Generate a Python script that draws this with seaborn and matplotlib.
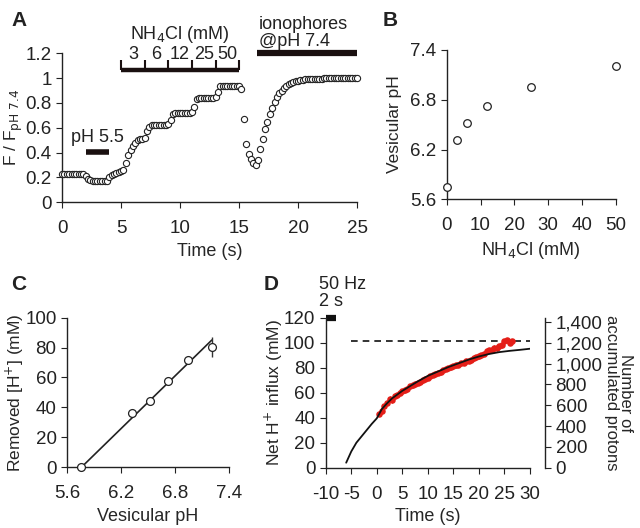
import numpy as np
import matplotlib
matplotlib.use("Agg")
import matplotlib.pyplot as plt
from matplotlib.ticker import FuncFormatter
import seaborn as sns

# ---- panel A: F / F(pH 7.4) trace ----
time_a = [
    0.0, 0.2, 0.4, 0.6, 0.8, 1.0, 1.2, 1.4, 1.6, 1.8,
    2.0, 2.2, 2.4, 2.6, 2.8, 3.0, 3.2, 3.4, 3.6, 3.8,
    4.0, 4.2, 4.4, 4.6, 4.8, 5.0, 5.2, 5.4, 5.6, 5.8,
    6.0, 6.2, 6.4, 6.6, 6.8, 7.0, 7.2, 7.4, 7.6, 7.8,
    8.0, 8.2, 8.4, 8.6, 8.8, 9.0, 9.2, 9.4, 9.6, 9.8,
    10.0, 10.2, 10.4, 10.6, 10.8, 11.0, 11.2, 11.4, 11.6, 11.8,
    12.0, 12.2, 12.4, 12.6, 12.8, 13.0, 13.2, 13.4, 13.6, 13.8,
    14.0, 14.2, 14.4, 14.6, 14.8, 15.0, 15.2, 15.4, 15.6, 15.8,
    16.0, 16.2, 16.4, 16.6, 16.8, 17.0, 17.2, 17.4, 17.6, 17.8,
    18.0, 18.2, 18.4, 18.6, 18.8, 19.0, 19.2, 19.4, 19.6, 19.8,
    20.0, 20.2, 20.4, 20.6, 20.8, 21.0, 21.2, 21.4, 21.6, 21.8,
    22.0, 22.2, 22.4, 22.6, 22.8, 23.0, 23.2, 23.4, 23.6, 23.8,
    24.0, 24.2, 24.4, 24.6, 24.8, 25.0,
]
ratio_a = [
    0.23, 0.23, 0.23, 0.23, 0.23, 0.23, 0.23, 0.23, 0.23, 0.23,
    0.21, 0.19, 0.18, 0.175, 0.175, 0.175, 0.175, 0.175, 0.175, 0.175,
    0.20, 0.22, 0.23, 0.235, 0.24, 0.25, 0.26, 0.32, 0.38, 0.42,
    0.45, 0.48, 0.50, 0.51, 0.51, 0.52, 0.57, 0.61, 0.62, 0.62,
    0.62, 0.62, 0.62, 0.62, 0.62, 0.63, 0.66, 0.71, 0.72, 0.72,
    0.72, 0.72, 0.72, 0.72, 0.72, 0.73, 0.77, 0.83, 0.84, 0.84,
    0.84, 0.84, 0.84, 0.84, 0.84, 0.85, 0.89, 0.94, 0.94, 0.94,
    0.94, 0.94, 0.94, 0.94, 0.94, 0.94, 0.91, 0.67, 0.47, 0.39,
    0.35, 0.32, 0.30, 0.34, 0.43, 0.51, 0.59, 0.65, 0.71, 0.76,
    0.81, 0.85, 0.88, 0.90, 0.92, 0.94, 0.95, 0.96, 0.97, 0.975,
    0.98, 0.985, 0.985, 0.99, 0.99, 0.99, 0.99, 0.99, 0.99, 0.99,
    0.99, 1.0, 1.0, 1.0, 1.0, 1.0, 1.0, 1.0, 1.0, 1.0,
    1.0, 1.0, 1.0, 1.0, 1.0, 1.0,
]
ph55_window = [2.0, 4.0]
nh4cl_edges = [5, 7, 9, 11, 13, 15]
nh4cl_conc = ["3", "6", "12", "25", "50"]
ionophore_window = [16.5, 25.0]

# ---- panel B / C: vesicular pH vs NH4Cl, removed H+ ----
nh4cl_mM = [0, 3, 6, 12, 25, 50]
vesicular_ph = [5.75, 6.32, 6.52, 6.72, 6.95, 7.21]
removed_h = [0, 36.5, 44.5, 57.5, 71.5, 80.5]
removed_h_err = [0, 1.5, 1.5, 1.5, 2.5, 6.5]
fit_ph = [5.76, 7.21]
fit_h = [0, 85]

# ---- panel D: net H+ influx ----
model_t = [-6, -5, -4, -3, -2, -1, 0, 1, 2, 3, 4, 5, 6, 8, 10, 12, 14,
           16, 18, 20, 22, 24, 26, 28, 30]
model_h = [4, 13, 20, 25, 30, 35, 39.5, 47, 51.5, 55.5, 58.5, 61.5, 64,
           69, 73.5, 77, 80.5, 83.5, 86.5, 89, 91, 92.5, 93.5, 94.3, 95.2]
influx_t = [0.5, 1.0, 1.5, 2.0, 2.5, 3.0, 3.5, 4.0, 4.5, 5.0, 5.5, 6.0,
            6.5, 7.0, 7.5, 8.0, 8.5, 9.0, 9.5, 10.0, 10.5, 11.0, 11.5,
            12.0, 12.5, 13.0, 13.5, 14.0, 14.5, 15.0, 15.5, 16.0, 16.5,
            17.0, 17.5, 18.0, 18.5, 19.0, 19.5, 20.0, 20.5, 21.0, 21.5,
            22.0, 22.5, 23.0, 23.5, 24.0, 24.5, 25.0, 25.5, 26.0, 26.5]
influx_h = [43, 45, 49, 52, 55, 54, 57, 58, 60, 61, 62, 63, 65, 66, 67,
            68, 68.5, 70, 71, 72, 73, 74.5, 75, 76, 76.5, 78, 79, 79.5,
            80.5, 81, 82, 82.5, 83.5, 84, 85, 85.5, 86.5, 87.5, 88.5, 89,
            90, 91, 93, 94, 94.5, 96, 95.5, 97, 98, 101, 102, 100, 101]
influx_err = [2.0] * len(influx_t)
plateau_h = 101
stim_window = [-10, -8]

sns.set_style("ticks")
plt.rcParams["font.family"] = ["Liberation Sans", "DejaVu Sans"]
plt.rcParams.update({
    "axes.linewidth": 1.0,
    "axes.unicode_minus": False,
    "xtick.major.size": 4,
    "ytick.major.size": 4,
    "xtick.labelsize": 13.5,
    "ytick.labelsize": 13.5,
    "axes.labelsize": 12.5,
    "xtick.color": "#222222",
    "ytick.color": "#222222",
    "axes.edgecolor": "#222222",
    "text.color": "#222222",
})
FS = 13
LS = 12.5
plain = FuncFormatter(lambda v, p: f"{v:g}")

fig = plt.figure(figsize=(6.4, 5.28), dpi=100)

# ================= A =================
ax = fig.add_axes([0.097, 0.617, 0.461, 0.282])
sns.scatterplot(x=time_a, y=ratio_a, ax=ax, marker="o", s=20,
                facecolor="white", edgecolor="#222222", linewidth=0.8,
                clip_on=False, zorder=3)
ax.set_xlim(0, 25)
ax.set_ylim(0, 1.2)
ax.set_xticks([0, 5, 10, 15, 20, 25])
ax.set_yticks(np.arange(0, 1.21, 0.2))
ax.yaxis.set_major_formatter(plain)
ax.set_xlabel("Time (s)", fontsize=FS)
ax.set_ylabel("F / F$_{\\mathrm{pH\\ 7.4}}$", fontsize=LS)
ax.yaxis.set_label_coords(-0.125, 0.5)
ax.tick_params(axis="x", pad=9)
sns.despine(ax=ax)
# pH 5.5 bar
ax.hlines(0.405, *ph55_window, color="#1a1010", lw=4)
ax.text(3.0, 0.52, "pH 5.5", ha="center", va="center", fontsize=FS)
# NH4Cl bracket
ax.hlines(1.065, nh4cl_edges[0], nh4cl_edges[-1], color="#1a1010", lw=3.2,
          clip_on=False)
ax.vlines(nh4cl_edges, 1.065, 1.15, color="#1a1010", lw=1.5, clip_on=False)
for lo, hi, lab in zip(nh4cl_edges[:-1], nh4cl_edges[1:], nh4cl_conc):
    ax.text((lo + hi) / 2, 1.19, lab, ha="center", va="center", fontsize=FS)
ax.text(10, 1.35, "NH$_4$Cl (mM)", ha="center", va="center", fontsize=FS)
# ionophores bar
ax.hlines(1.2, *ionophore_window, color="#1a1010", lw=4.5, clip_on=False)
ax.text(16.7, 1.225, "ionophores\n@pH 7.4", ha="left", va="bottom",
        fontsize=FS, linespacing=1.0)
fig.text(0.018, 0.962, "A", fontsize=15, fontweight="bold", va="center")

# ================= B =================
ax = fig.add_axes([0.698, 0.6225, 0.264, 0.283])
sns.scatterplot(x=nh4cl_mM, y=vesicular_ph, ax=ax, marker="o", s=30,
                facecolor="white", edgecolor="#222222", linewidth=0.9,
                clip_on=False, zorder=3)
ax.set_xlim(0, 50)
ax.set_ylim(5.6, 7.4)
ax.set_xticks(range(0, 51, 10))
ax.set_yticks([5.6, 6.2, 6.8, 7.4])
ax.set_xlabel("NH$_4$Cl (mM)", fontsize=FS)
ax.set_ylabel("Vesicular pH", fontsize=LS)
ax.yaxis.set_label_coords(-0.265, 0.5)
ax.tick_params(axis="x", pad=9)
sns.despine(ax=ax)
fig.text(0.598, 0.962, "B", fontsize=15, fontweight="bold", va="center")

# ================= C =================
ax = fig.add_axes([0.1047, 0.115, 0.253, 0.2835])
sns.lineplot(x=fit_ph, y=fit_h, ax=ax, color="#222222", lw=1.2)
ax.errorbar(vesicular_ph, removed_h, yerr=removed_h_err, fmt="none",
            ecolor="#333333", elinewidth=1.0, capsize=0, zorder=2)
sns.scatterplot(x=vesicular_ph, y=removed_h, ax=ax, marker="o", s=32,
                facecolor="white", edgecolor="#222222", linewidth=0.9,
                clip_on=False, zorder=3)
ax.set_xlim(5.6, 7.4)
ax.set_ylim(0, 100)
ax.set_xticks([5.6, 6.2, 6.8, 7.4])
ax.set_yticks(range(0, 101, 20))
ax.set_xlabel("Vesicular pH", fontsize=FS)
ax.set_ylabel("Removed [H$^{+}$] (mM)", fontsize=LS)
ax.yaxis.set_label_coords(-0.255, 0.5)
ax.tick_params(axis="x", pad=9)
sns.despine(ax=ax)
fig.text(0.018, 0.462, "C", fontsize=15, fontweight="bold", va="center")

# ================= D =================
ax = fig.add_axes([0.509, 0.1142, 0.319, 0.284])
sns.lineplot(x=model_t, y=model_h, ax=ax, color="#111111", lw=1.3, zorder=4)
ax.errorbar(influx_t, influx_h, yerr=influx_err, fmt="none",
            ecolor="#d81c16", elinewidth=0.8, capsize=0, zorder=2)
sns.scatterplot(x=influx_t, y=influx_h, ax=ax, marker="o", s=22,
                color="#e41e18", edgecolor="#e41e18", linewidth=0, zorder=3)
ax.hlines(plateau_h, -5, 30, colors="#111111", linestyles=(0, (4, 3)),
          lw=1.2)
ax.hlines(120, *stim_window, color="#111111", lw=4.5, clip_on=False)
ax.text(-11.3, 126, "50 Hz\n2 s", ha="left", va="bottom", fontsize=FS,
        linespacing=1.0)
ax.set_xlim(-10, 30)
ax.set_ylim(0, 120)
ax.set_xticks(range(-10, 31, 5))
ax.set_yticks(range(0, 121, 20))
ax.set_xlabel("Time (s)", fontsize=FS)
ax.set_ylabel("Net H$^{+}$ influx (mM)", fontsize=LS)
ax.yaxis.set_label_coords(-0.2, 0.5)
ax.tick_params(axis="x", pad=9)
sns.despine(ax=ax)

ax2 = ax.twinx()
ax2.set_ylim(0, 1440)
ax2.set_yticks(range(0, 1401, 200))
ax2.yaxis.set_major_formatter(FuncFormatter(lambda v, p: f"{v:,.0f}"))
for s in ["top", "left", "bottom"]:
    ax2.spines[s].set_visible(False)
ax2.spines["right"].set_position(("outward", 11))
ax2.set_ylabel("Number of\naccumulated protons", fontsize=12, rotation=270,
               va="bottom", linespacing=0.95)
ax2.yaxis.set_label_coords(1.363, 0.5)
fig.text(0.412, 0.462, "D", fontsize=15, fontweight="bold", va="center")

fig.savefig("out.png", dpi=100)
